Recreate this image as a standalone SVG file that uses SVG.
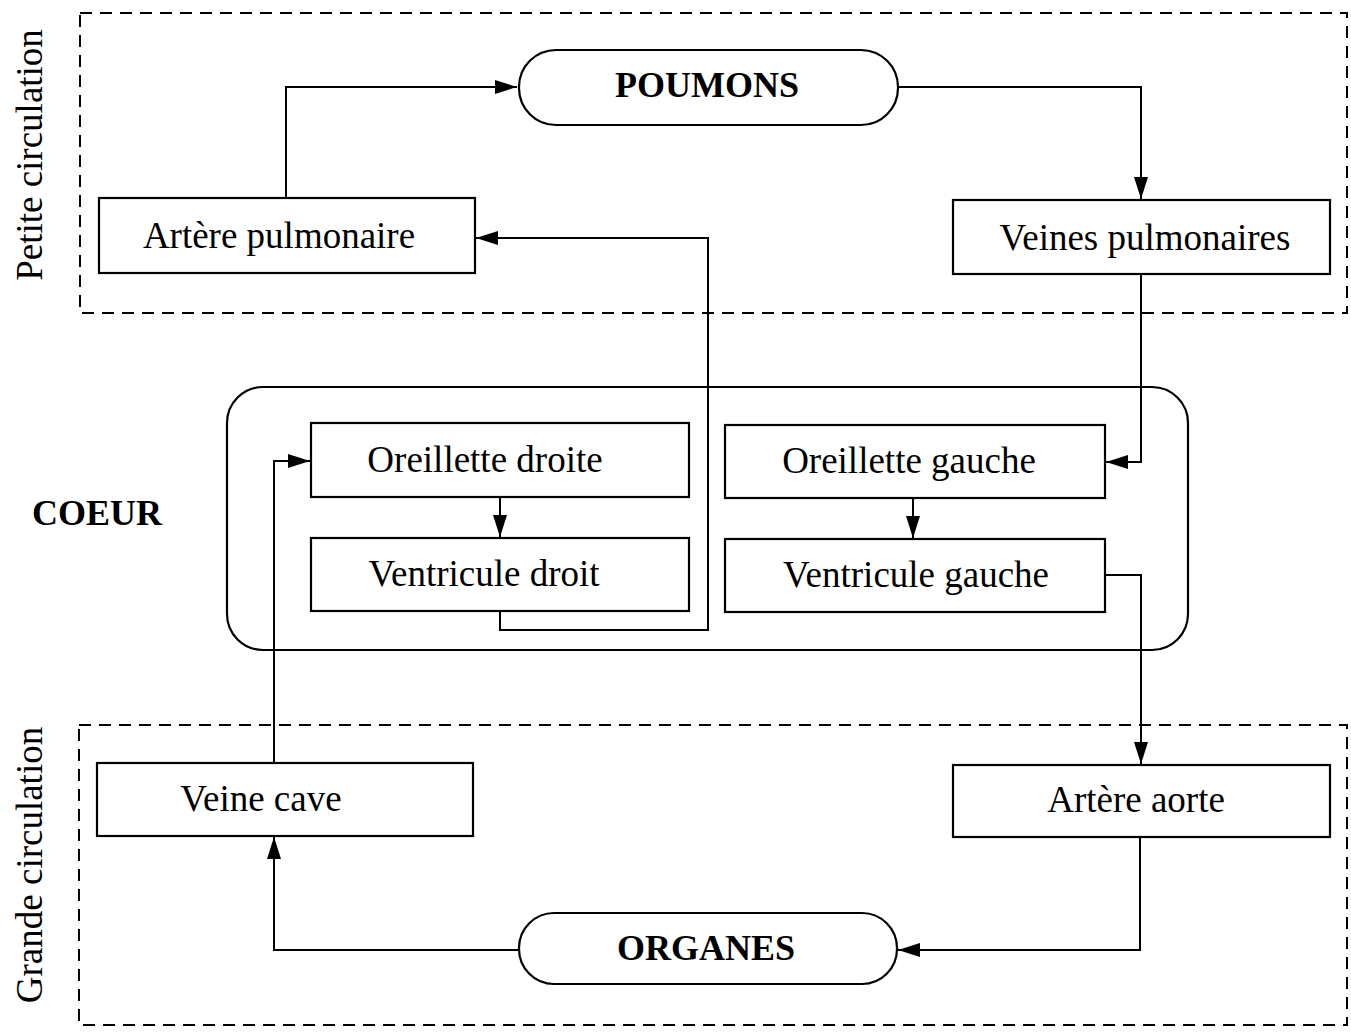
<svg xmlns="http://www.w3.org/2000/svg" width="1351" height="1032" viewBox="0 0 1351 1032">
<style>
.box{fill:#fff;stroke:#000;stroke-width:2.2}
.grp{fill:none;stroke:#000;stroke-width:2;stroke-dasharray:12 8}
.coeur{fill:none;stroke:#000;stroke-width:2.2}
.t{font-family:"Liberation Serif","Times New Roman",serif;font-size:37px;fill:#000;text-anchor:middle}
.b{font-weight:bold;font-size:36px}
.c{fill:none;stroke:#000;stroke-width:2}
</style>
<defs>
<marker id="ah" markerWidth="22" markerHeight="14" refX="22" refY="7" orient="auto" markerUnits="userSpaceOnUse">
<path d="M0,0 L22,7 L0,14 Z" fill="#000"/>
</marker>
</defs>
<rect width="1351" height="1032" fill="#fff"/>
<g id="petite-circulation">
<rect class="grp" x="80" y="13" width="1267" height="300"/>
<text class="t" transform="translate(42,155) rotate(-90)">Petite circulation</text>
</g>
<g id="grande-circulation">
<rect class="grp" x="79" y="725" width="1268" height="300"/>
<text class="t" transform="translate(42,865) rotate(-90)">Grande circulation</text>
</g>
<g id="coeur">
<rect class="coeur" x="227" y="387" width="961" height="263" rx="36" ry="36"/>
<text class="t b" x="97" y="525">COEUR</text>
</g>
<g id="connectors">
<polyline class="c" points="286,198 286,87 517,87" marker-end="url(#ah)"/>
<polyline class="c" points="898,87 1141,87 1141,199" marker-end="url(#ah)"/>
<polyline class="c" points="500,611 500,630 708,630 708,238 476,238" marker-end="url(#ah)"/>
<polyline class="c" points="1141,274 1141,462 1106,462" marker-end="url(#ah)"/>
<polyline class="c" points="500,497 500,537" marker-end="url(#ah)"/>
<polyline class="c" points="913,498 913,538" marker-end="url(#ah)"/>
<polyline class="c" points="1105,575 1141,575 1141,764" marker-end="url(#ah)"/>
<polyline class="c" points="274,763 274,461 310,461" marker-end="url(#ah)"/>
<polyline class="c" points="1140,837 1140,950 898,950" marker-end="url(#ah)"/>
<polyline class="c" points="519,950 274,950 274,837" marker-end="url(#ah)"/>
</g>
<g id="poumons">
<rect class="box" x="519" y="50" width="379" height="75" rx="37" ry="37"/>
<text class="t b" x="707" y="97">POUMONS</text>
</g>
<g id="artere-pulmonaire">
<rect class="box" x="99" y="198" width="376" height="75"/>
<text class="t" x="279" y="248">Artère pulmonaire</text>
</g>
<g id="veines-pulmonaires">
<rect class="box" x="953" y="200" width="377" height="74"/>
<text class="t" x="1145" y="250">Veines pulmonaires</text>
</g>
<g id="oreillette-droite">
<rect class="box" x="311" y="423" width="378" height="74"/>
<text class="t" x="485" y="472">Oreillette droite</text>
</g>
<g id="ventricule-droit">
<rect class="box" x="311" y="538" width="378" height="73"/>
<text class="t" x="484" y="586">Ventricule droit</text>
</g>
<g id="oreillette-gauche">
<rect class="box" x="725" y="425" width="380" height="73"/>
<text class="t" x="909" y="473">Oreillette gauche</text>
</g>
<g id="ventricule-gauche">
<rect class="box" x="725" y="539" width="380" height="73"/>
<text class="t" x="916" y="587">Ventricule gauche</text>
</g>
<g id="veine-cave">
<rect class="box" x="97" y="763" width="376" height="73"/>
<text class="t" x="261" y="811">Veine cave</text>
</g>
<g id="artere-aorte">
<rect class="box" x="953" y="765" width="377" height="72"/>
<text class="t" x="1136" y="812">Artère aorte</text>
</g>
<g id="organes">
<rect class="box" x="519" y="913" width="378" height="71" rx="35" ry="35"/>
<text class="t b" x="706" y="960">ORGANES</text>
</g>
</svg>
